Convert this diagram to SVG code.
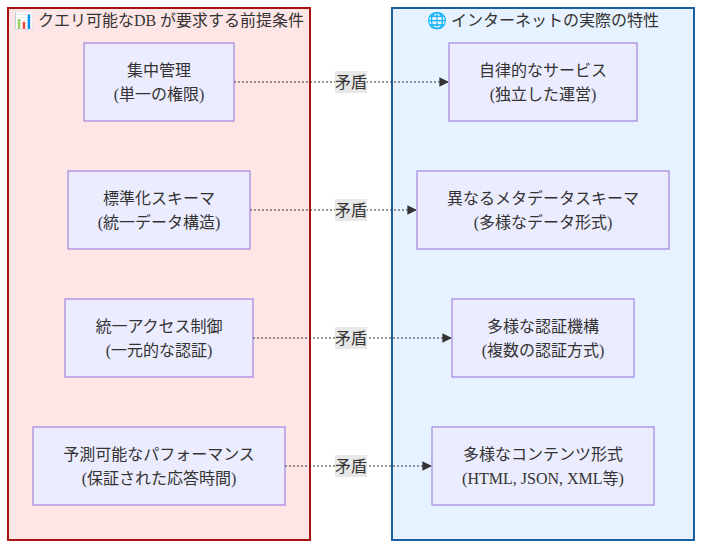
<svg xmlns="http://www.w3.org/2000/svg" width="702" height="548" viewBox="0 0 702 548">
<defs>
<style>
text{font-family:"Liberation Serif","Noto Sans CJK JP",serif;font-size:16px;fill:#333;text-anchor:middle}
.node rect{fill:#ECECFF;stroke:#9370DB;stroke-width:1}
.edge{stroke:#333;stroke-width:1.2;stroke-dasharray:2,2;fill:none}
.lbl{fill:#e8e8e8}
</style>
<marker id="ah" viewBox="0 0 10 10" refX="9" refY="5" markerWidth="8" markerHeight="8" orient="auto"><path d="M0,0L10,5L0,10z" fill="#333"/></marker>
</defs>
<g id="cluster-left"><rect x="8" y="8" width="302" height="532" fill="#ffe6e6" stroke="#aa1111" stroke-width="2"/><text x="159" y="26">📊 クエリ可能なDB が要求する前提条件</text></g>
<g id="cluster-right"><rect x="392" y="8" width="302" height="532" fill="#e6f2ff" stroke="#1a5f9e" stroke-width="2"/><text x="543" y="26">🌐 インターネットの実際の特性</text></g>
<g id="connectors">
<path class="edge" d="M234,82H448" marker-end="url(#ah)"/>
<path class="edge" d="M250,210H416" marker-end="url(#ah)"/>
<path class="edge" d="M253,338H451" marker-end="url(#ah)"/>
<path class="edge" d="M285,466H431" marker-end="url(#ah)"/>
<rect class="lbl" x="335" y="71" width="32" height="22"/><text x="351" y="88">矛盾</text>
<rect class="lbl" x="335" y="199" width="32" height="22"/><text x="351" y="216">矛盾</text>
<rect class="lbl" x="335" y="327" width="32" height="22"/><text x="351" y="344">矛盾</text>
<rect class="lbl" x="335" y="455" width="32" height="22"/><text x="351" y="472">矛盾</text>
</g>
<g id="L1" class="node"><rect x="84" y="43" width="150" height="78"/><text x="159" y="76">集中管理</text><text x="159" y="100">(単一の権限)</text></g>
<g id="L2" class="node"><rect x="68" y="171" width="182" height="78"/><text x="159" y="204">標準化スキーマ</text><text x="159" y="228">(統一データ構造)</text></g>
<g id="L3" class="node"><rect x="65" y="299" width="188" height="78"/><text x="159" y="332">統一アクセス制御</text><text x="159" y="356">(一元的な認証)</text></g>
<g id="L4" class="node"><rect x="33" y="427" width="252" height="78"/><text x="159" y="460">予測可能なパフォーマンス</text><text x="159" y="484">(保証された応答時間)</text></g>
<g id="R1" class="node"><rect x="449" y="43" width="188" height="78"/><text x="543" y="76">自律的なサービス</text><text x="543" y="100">(独立した運営)</text></g>
<g id="R2" class="node"><rect x="417" y="171" width="252" height="78"/><text x="543" y="204">異なるメタデータスキーマ</text><text x="543" y="228">(多様なデータ形式)</text></g>
<g id="R3" class="node"><rect x="452" y="299" width="182" height="78"/><text x="543" y="332">多様な認証機構</text><text x="543" y="356">(複数の認証方式)</text></g>
<g id="R4" class="node"><rect x="432" y="427" width="222" height="78"/><text x="543" y="460">多様なコンテンツ形式</text><text x="543" y="484">(HTML, JSON, XML等)</text></g>
</svg>
